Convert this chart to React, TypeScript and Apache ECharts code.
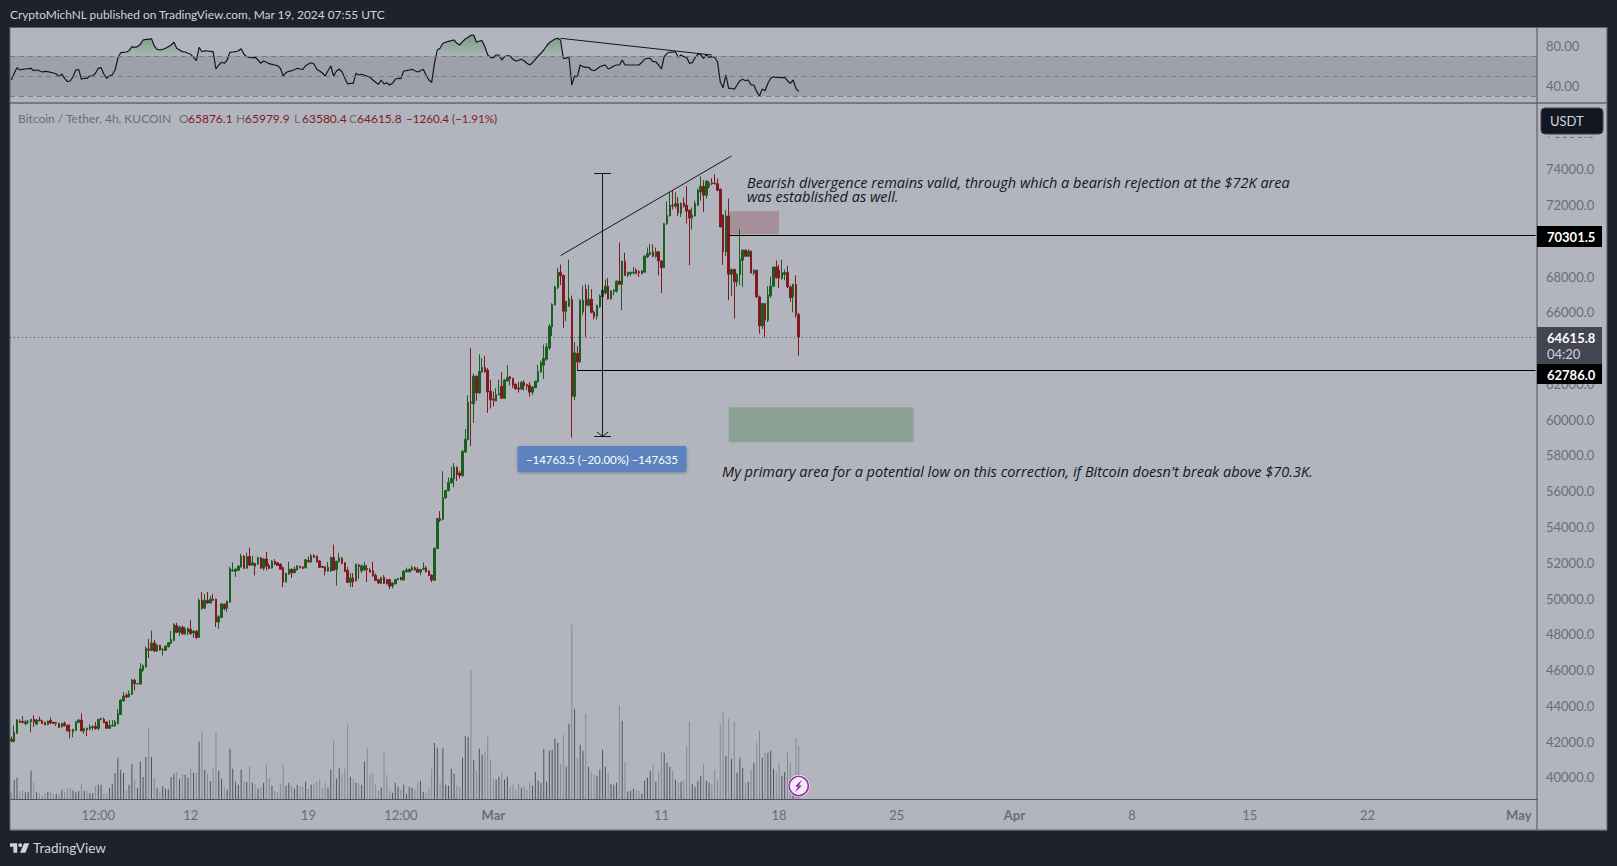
import React, { useEffect, useRef } from "react";
import * as echarts from "echarts";

// [open, close, low, high]
const candlesFeb: number[][] = [
[42150,42020,42020,42290],[42020,42520,41960,42920],[42480,43210,42440,43270],[43150,43080,43050,43250],[43130,43080,43020,43440],[43000,43110,42920,43210],[43110,43150,42980,43210],[43110,43250,42520,43250],[43250,43100,42830,43480],[42980,43210,42940,43270],
[43210,43170,43150,43400],[43170,43020,42990,43240],[43080,42940,42920,43130],[42960,43150,42920,43190],[43190,43040,43000,43350],[43080,43020,43000,43130],[43020,43060,42880,43110],[43020,42810,42750,43060],[42830,43000,42790,43060],[43040,42900,42850,43130],
[42920,42600,42580,42940],[42630,42600,42190,42980],[42540,42690,42250,42730],[42630,43110,42600,43150],[43080,43210,43040,43270],[43210,42600,42600,43590],[42600,42730,42440,42770],[42750,42670,42310,42790],[42710,42830,42630,42980],[42790,42830,42630,42920],
[42860,42730,42670,43110],[42750,43250,42630,43270],[43230,43270,43210,43360],[43250,43060,43040,43350],[43100,42750,42730,43130],[42750,42900,42730,43210],[42880,42920,42850,43210],[42880,43110,42850,43210],[43010,43580,42970,43830],[43520,44330,43500,44370],
[44280,44550,44260,44770],[44600,44500,44430,44700],[44500,44700,44480,44870],[44650,45450,44610,45510],[45440,45250,44870,45520],[45230,45250,45210,45270],[45220,46070,45200,46390],[45995,46245,45895,46325],[46170,47230,46140,47310],[47175,47115,46675,47745],
[47110,47520,47070,48210],[47520,47070,47020,47690],[47070,47400,47020,47450],[47380,47130,47090,47420],[47130,47170,46820,47210],[47110,47340,47070,47380],[47310,47530,47270,47570],[47490,47720,47450,48200],[47665,48545,47625,48625],[48495,48115,48075,48645],
[48115,48405,47905,48485],[48405,48035,47965,48485],[48035,48305,47965,48425],[48135,48325,47945,48385],[48285,48035,47985,48805],[48075,48175,47805,48245],[48175,47825,47735,48245],[47825,49908,47800,50005],[49905,49445,49385,50365],[49465,49905,49415,50255],
[49905,49755,49715,50365],[49755,49965,49715,50135],[49965,49905,49865,50255],[49960,48690,48415,50000],[48690,48980,48310,49070],[48950,49700,48910,49760],[49685,49435,49345,49725],[49455,49845,49245,49895],[49800,51683,49770,51780],[51545,51585,51505,52025],
[51525,51645,51205,51685],[51585,51815,51545,51855],[51770,52380,51730,52500],[52380,51700,51660,52420],[51700,52350,51660,52570],[52350,51870,51830,52850],[51870,52000,51830,52380],[51960,51810,51290,52000],[51930,52290,51870,52350],[52290,51700,51660,52330],
[51700,52210,51580,52270],[52210,51810,51580,52620],[51850,51680,51640,51970],[51710,52100,51680,52140],[52080,51930,51870,52200],[52000,51850,51810,52040],[51930,51640,51600,51970],[51725,50925,50635,51785],[50930,51410,50900,51450],[51370,51640,51330,52060],
[51640,51430,51160,51680],[51450,51640,51410,51790],[51600,51830,51560,51870],[51800,51720,51690,51840],[51760,51690,51650,51820],[51720,52170,51690,52210],[52140,52060,52020,52350],[52040,52390,52000,52500],[52410,52310,52270,52480],[52370,52060,52020,52410],
[52100,51750,51710,52160],[51790,51750,51710,51830],[51770,51540,51290,51810],[51540,51750,51500,52040],[51540,52290,51500,52360],[52290,51580,51540,53020],[51640,52080,50720,52120],[52060,52270,52020,52560],[52270,51960,51920,52310],[52000,51520,51480,52040],
[51575,50905,50865,51765],[50915,51145,50645,51425],[51145,50935,50645,51425],[50995,51915,50955,51955],[51870,51790,51100,51950],[51560,51830,51430,51910],[51600,51830,51560,52060],[51680,51620,50930,51870],[51600,51490,51450,51700],[51560,51270,51230,52060],
[51290,51020,50980,51410],[51060,50870,50830,51100],[50850,51180,50810,51220],[51200,50850,50810,51310],[51060,50830,50790,51100],[51060,50700,50530,51100],[50700,50870,50560,50910],[50830,51060,50790,51100],[51060,51120,51020,51160],[51180,51060,51020,51220],
[51040,51540,51000,51580],[51500,51600,51460,51730],[51500,51640,51460,51680],[51600,51720,51560,51850],[51720,51600,51560,51800],[51640,51470,51430,51760],[51490,51620,51310,51660],[51640,51680,51600,52020],[51720,51500,51460,51820],[51540,51290,51250,51580],
[51310,51040,50910,51350],[51020,52817,50985,52845],
];
const candlesMar: number[][] = [
[52800,54475,52760,54510],[54470,54370,54280,54890],[54418,55630,54380,57120],[55625,56045,55585,56055],[56035,56495,55995,56785],[56470,56710,56430,57390],[56705,57345,56225,57575],[57345,56935,56575,57385],[57015,56885,56705,57125],[56860,58240,56820,58280],
[58190,58900,58160,59480],[58890,60975,58850,61370],[60975,60935,58540,63990],[60886,62428,59820,62583],[62428,61497,61051,62468],[61497,62690,61455,63660],[62665,62915,62635,63435],[62915,62685,62635,63565],[62768,61555,60382,62884],[61594,61110,60625,62244],
[61150,61090,60740,61570],[61050,61410,61020,61760],[61400,61470,61360,62240],[61860,61200,61160,62650],[61200,62220,61160,62270],[62170,62360,62130,63050],[62400,62310,61920,62440],[62310,61920,61770,62340],[61980,61730,61690,62020],[61770,61710,61520,62110],
[61710,62100,61670,62140],[62080,61920,61630,62210],[61960,61880,61670,62000],[61920,61540,61290,62110],[61540,61830,61380,61870],[61790,62150,61760,62190],[62115,62695,62085,63055],[62670,63190,62630,63300],[63046,63430,62280,64200],[63380,64070,63300,64280],
[64014,65225,63900,65358],[65187,66454,64669,66500],[66418,67425,66375,67490],[67387,68243,67298,68486],[68243,68039,67518,68672],[68057,66063,65132,68120],[66063,66604,65505,66665],[66342,66772,66297,68951],[66715,61314,59005,66938],[61314,63736,61090,64350],
[63700,63232,62765,64106],[63232,66677,63175,66735],[66036,66676,65842,67490],[67292,66400,64630,67573],[66400,66735,66327,67540],[66735,66007,65940,67297],[66007,65746,65600,66086],[65785,66395,65600,66424],[66308,66919,66250,67007],[66870,67239,66812,67879],
[67089,67462,67007,67840],[67462,66754,66715,67918],[66754,67200,66715,67239],[67160,67239,66958,67300],[67180,67743,67103,67782],[67743,67574,67540,69900],[67574,68858,66123,68897],[68858,68073,68033,69334],[68073,68237,67976,68277],[68170,68237,68025,68270],
[68199,68237,68122,68537],[68354,68170,68122,68460],[68267,68208,67976,68364],[68170,68315,68122,68360],[68247,69140,68208,69198],[69101,69285,69043,69624],[69227,69362,69188,69818],[69382,69140,69091,69808],[69120,69382,69043,69624],[69382,68877,68073,69430],
[68877,68505,67084,68895],[68505,70963,68460,71001],[70963,71430,70885,72211],[71393,71987,71370,72727],[71987,71951,71758,72825],[71933,72080,71807,72727],[72080,71560,71370,72455],[71523,72080,71332,72147],[72118,71933,71855,72419],[71987,71651,70963,73050],
[71709,71280,68635,71758],[71280,71430,70628,71855],[71393,72080,71351,72244],[71987,72825,71951,72922],[72727,73047,72244,73600],[73047,72546,71614,73385],[72546,73330,72360,73407],[73013,73252,72922,73339],[73252,73194,73116,73503],[73214,73194,73145,73721],
[73194,72825,72776,73480],[72883,70778,70740,72922],[71430,69380,68654,71468],[69380,71393,69139,71710],[71393,68131,66676,72360],[68131,68392,66909,68450],[68392,67705,65648,68450],[67705,68131,67441,68170],[68113,68972,67520,70642],[68915,69474,67423,69529],
[69474,69140,69091,69529],[69140,69420,69091,69529],[69420,68206,68168,69460],[68206,68354,68073,68413],[68354,66866,66812,68364],[66866,65245,64815,66938],[65245,66492,65065,66521],[66492,65562,64593,66521],[65562,66958,65454,67462],[66922,67462,66812,67986],
[67462,68537,67441,68557],[68537,67947,67879,68897],[68354,67908,67345,68654],[67908,68208,67830,68947],[68130,68225,67800,68400],[68225,67424,67350,68600],[67424,66828,66600,67500],[66865,67554,66000,67600],[67554,65876,65700,68076],[65876.1,64615.8,63580.4,65979.9],
];
const volumeFeb: number[] = [
20,58,64,23,25,20,22,85,49,20,18,12,19,22,22,14,16,16,28,20,31,34,26,20,24,46,25,25,18,17,40,43,43,16,19,33,46,78,124,88,78,28,43,106,58,33,112,66,126,214,126,64,34,22,39,31,31,66,76,81,61,76,73,64,91,79,78,172,202,88,76,54,91,202,85,61,36,28,151,91,52,43,88,55,51,100,49,43,31,37,49,106,63,40,24,21,46,103,40,49,40,31,43,37,37,52,31,43,46,52,58,34,49,34,88,175,61,94,73,91,223,67,61,49,46,43,112,151,76,79,46,25,34,142,73,25,19,49,37,28,43,16,37,34,28,52,55,22,19,31,91,168,
];
const volumeMar: number[] = [
154,49,154,43,40,91,76,43,37,124,190,187,388,118,85,151,133,142,187,118,61,58,67,79,58,67,37,43,28,46,34,40,28,49,40,82,55,49,151,52,145,148,181,169,106,193,97,226,523,271,124,163,145,256,97,79,73,70,88,148,97,79,46,43,49,280,235,112,22,25,31,28,25,16,55,64,85,103,52,82,142,139,109,97,85,58,49,52,55,157,232,46,37,55,70,103,55,49,43,88,58,226,262,130,241,121,232,79,124,94,49,52,88,109,169,205,124,139,139,145,91,79,109,70,82,139,109,55,184,160,
];
const rsiFeb: number[] = [
46,52.7,58.3,56,56.7,57,57.3,57.7,55.3,56,55.3,54,54.7,54.3,53.7,53,52,49.3,52,47.7,44.3,45,49.3,56,56.7,46.7,47.7,47.7,50,50,52.7,57.7,58.3,52,47.7,50,51.3,56,67.7,73.3,73.7,74,75.3,79.3,78.7,79.3,81.7,86,86.7,86.7,87.3,80,76.7,76,76.7,77.7,79.3,81,83.7,77.7,76,74.3,74,72.7,71.7,68.7,65.3,78.7,74.3,75.3,75,74.7,74.3,57,61,63.7,62.7,66,73.7,74,74.3,75.3,77.3,71.7,69.3,68.7,68.3,68.7,66,62.7,65,63.7,62.3,61.7,61,60.3,57.7,50,53.3,54.7,55.3,56.3,57.7,57,56.7,60.3,62,63.3,62,56.7,55,53,50,55.3,60,50,54.7,57,54.3,47.7,42,42.7,42.7,52.7,51,51.7,50.7,49.7,48.7,46,43.7,41.7,46,42,43.3,41,42.7,46.7,47.7,47.3,55,55.3,56,56.7,55.3,54,55.3,56.7,51,46,43.7,62.7,
];
const rsiMar: number[] = [
76,77.7,82.7,83.7,84.7,85.3,86,82.7,81,84.3,87,88.7,90.7,91,83.7,85,85.3,79.3,71,68.7,68.3,71,71,66,69.3,70.3,70,66.7,65,65.7,66.7,65.3,62.7,61,63.3,66.7,70,72.7,76,80,83.3,85.3,87,87.7,86,67.7,67.7,69.3,41,50,49.3,61,59.3,58.7,58.7,56,55.3,57,59.3,60.3,61,57,58.3,60,61,61,66,61,61,61,61,61,61,63.7,66.7,67.7,67.7,64.3,64.3,61,57,69.3,72.7,73.7,74,74.3,68.7,71,69.3,68.7,62.7,63.3,68.3,71.7,71.7,67.7,71,68.7,69.3,68.7,64.3,44.3,38.3,51,37.7,37.7,36.7,41,45.3,46.7,45.3,46,41,41,34.3,30,37,35.3,42.7,47.7,49.3,48.7,48.7,48.3,48.7,45.3,42.7,46,37.7,34.3,
];
const timeLabels: [number, string][] = [[31,"12:00"],[64,"12"],[106,"19"],[139,"12:00"],[172,"Mar"],[232,"11"],[274,"18"],[316,"25"],[358,"Apr"],[400,"8"],[442,"15"],[484,"22"],[538,"May"]];
const monthNames = ["Mar", "Apr", "May"];
const priceTicks = { min: 38000, max: 78000, step: 2000 };
const coveredTicks = [64000, 70000];
const slotCount = 545;

// drawings: [slot, price]
const wedgeLine = [[196, 69176], [257, 74743]];
const rsiLine = [[196, 87.7], [250, 71]];
const measureSlot = 211;
const measureTop = 73760;
const measureBottom = 59058;
const measureCaps = [208, 214];
const chevron = [[209, 59315], [211, 59058], [213, 59315]];
const resistance = { from: 256, level: 70301.5 };
const support = { from: 202, level: 62786 };
const lastPrice = 64615.8;
const redZone = { from: 256, to: 274, top: 71652, bottom: 70366 };
const greenZone = { from: 256, to: 322, top: 60696, bottom: 58739 };

const candles = candlesFeb.concat(candlesMar);
const volumes = volumeFeb.concat(volumeMar);
const rsi = rsiFeb.concat(rsiMar);

const UP = "#1b5e20";
const DOWN = "#801922";
const INK = "#131722";
const DARK = "#1e222d";
const PANE = "#b2b5be";
const AXIS_TEXT = "#6a6d78";
const FONT = "Lato";

function txt(x: number, y: number, text: string, fill: string, font: string, z = 60, align = "left") {
  return { type: "text", z, silent: true, style: { x, y, text, fill, font, textAlign: align, textVerticalAlign: "middle" } };
}
function box(x: number, y: number, w: number, h: number, fill: string, z: number) {
  return { type: "rect", z, silent: true, shape: { x, y, width: w, height: h }, style: { fill } };
}
function seg(x1: number, y1: number, x2: number, y2: number, stroke: string, z = 40) {
  return { type: "line", z, silent: true, shape: { x1, y1, x2, y2 }, style: { stroke, lineWidth: 1 } };
}
function link(a: number[], b: number[], extra: any = {}) {
  return [{ coord: a, ...extra }, { coord: b }];
}

export default function App() {
  const ref = useRef<HTMLDivElement>(null);
  useEffect(() => {
    const chart = echarts.init(ref.current!, undefined, { renderer: "svg" });
    const slots = Array.from({ length: slotCount }, (_, i) => {
      const hit = timeLabels.find((t) => t[0] === i);
      return hit ? hit[1] : "";
    });
    const labelled = new Set(timeLabels.map((t) => t[0]));
    const plainX = { type: "category", data: slots, boundaryGap: true, axisLine: { show: false }, axisTick: { show: false }, axisLabel: { show: false }, splitLine: { show: false } };

    const legendFont = `12px ${FONT}`;
    const noteFont = `italic 14.5px "Open Sans"`;
    const graphic: any[] = [
      box(10, 27, 1597, 803, PANE, -10),
      seg(10, 103, 1607, 103, "#3a3d48"),
      seg(1537, 27, 1537, 830, "#4c4f5a"),
      box(10, 27, 1597, 1, "#5d606b", 40),
      box(10, 829.5, 1597, 1.5, "#5d606b", 40),
      box(9.5, 27, 1, 803, "#6a6d78", 40),
      box(1606.5, 27, 1, 803, "#5d606b", 40),
      txt(10, 14.5, "CryptoMichNL published on TradingView.com, Mar 19, 2024 07:55 UTC", "#d1d4dc", `11.9px ${FONT}`),
      txt(18, 118.5, "Bitcoin / Tether, 4h, KUCOIN", AXIS_TEXT, legendFont),
      txt(179, 118.5, "O", AXIS_TEXT, legendFont), txt(188, 118.5, "65876.1", DOWN, legendFont),
      txt(236, 118.5, "H", AXIS_TEXT, legendFont), txt(245, 118.5, "65979.9", DOWN, legendFont),
      txt(294, 118.5, "L", AXIS_TEXT, legendFont), txt(302, 118.5, "63580.4", DOWN, legendFont),
      txt(349, 118.5, "C", AXIS_TEXT, legendFont), txt(357, 118.5, "64615.8", DOWN, legendFont),
      txt(406, 118.5, "−1260.4 (−1.91%)", DOWN, `11.6px ${FONT}`),
      txt(747, 182.5, "Bearish divergence remains valid, through which a bearish rejection at the $72K area", INK, noteFont),
      txt(747, 196.5, "was established as well.", INK, noteFont),
      txt(722, 471, "My primary area for a potential low on this correction, if Bitcoin doesn't break above $70.3K.", INK, noteFont),
      { type: "rect", z: 50, silent: true, shape: { x: 517.5, y: 446, width: 169, height: 26, r: 2 }, style: { fill: "#5b83bd", shadowBlur: 3, shadowColor: "rgba(0,0,0,0.3)", shadowOffsetY: 1 } },
      txt(602, 459, "−14763.5 (−20.00%) −147635", "#ffffff", `11.4px ${FONT}`, 60, "center"),
      box(1538, 134.5, 66, 2.2, PANE, 49),
      { type: "rect", z: 50, silent: true, shape: { x: 1541, y: 108, width: 62, height: 26, r: 4 }, style: { fill: "#131722", stroke: "#434651", lineWidth: 1 } },
      txt(1550, 121, "USDT", "#d1d4dc", `13px ${FONT}`),
      box(1537, 226, 65, 21, "#000000", 50),
      txt(1547, 236.5, "70301.5", "#ffffff", `bold 13px ${FONT}`),
      box(1537, 327, 65, 37, "#434651", 50),
      txt(1547, 338, "64615.8", "#ffffff", `bold 13px ${FONT}`),
      txt(1547, 354, "04:20", "#d1d4dc", `13px ${FONT}`),
      box(1537, 364, 65, 20, "#000000", 51),
      txt(1547, 374.5, "62786.0", "#ffffff", `bold 13px ${FONT}`),
      { type: "circle", z: 50, silent: true, shape: { cx: 798.7, cy: 786, r: 11 }, style: { fill: "#ffffff" } },
      { type: "circle", z: 51, silent: true, shape: { cx: 798.7, cy: 786, r: 9.6 }, style: { fill: "#f0ecf3", stroke: "#9c27b0", lineWidth: 1.6 } },
      { type: "polygon", z: 52, silent: true, shape: { points: [[802, 779.5], [795, 786.5], [798, 786.5], [795, 792.5], [802, 785.5], [799, 785.5]] }, style: { fill: "#9c27b0" } },
      { type: "polygon", z: 40, silent: true, shape: { points: [[10, 843.3], [17.2, 843.3], [17.2, 852.7], [13.4, 852.7], [13.4, 846.8], [10, 846.8]] }, style: { fill: "#d1d4dc" } },
      { type: "circle", z: 40, silent: true, shape: { cx: 20.2, cy: 845.2, r: 1.9 }, style: { fill: "#d1d4dc" } },
      { type: "polygon", z: 40, silent: true, shape: { points: [[24, 843.3], [29.3, 843.3], [25.4, 852.7], [20, 852.7]] }, style: { fill: "#d1d4dc" } },
      txt(33, 848, "TradingView", "#d1d4dc", `13.5px ${FONT}`),
    ];

    const option: any = {
      animation: false,
      backgroundColor: DARK,
      textStyle: { fontFamily: FONT },
      tooltip: { show: false },
      graphic,
      grid: [
        { left: 10, width: 1527, top: 26, height: 80 },
        { left: 10, width: 1527, top: 97.7, height: 715.56 },
        { left: 10, width: 1527, top: 599, height: 200 },
      ],
      xAxis: [
        { ...plainX, gridIndex: 0 },
        { ...plainX, gridIndex: 1 },
        {
          ...plainX,
          gridIndex: 2,
          axisLine: { show: true, lineStyle: { color: "#50535e", width: 1 } },
          axisLabel: {
            show: true,
            margin: 9,
            hideOverlap: false,
            color: AXIS_TEXT,
            fontSize: 13,
            fontFamily: FONT,
            interval: (i: number) => labelled.has(i),
            formatter: (v: string) => (monthNames.includes(v) ? `{m|${v}}` : v),
            rich: { m: { fontWeight: "bold", color: AXIS_TEXT, fontSize: 13, fontFamily: FONT } },
          },
        },
      ],
      yAxis: [
        {
          type: "value", gridIndex: 0, position: "right", min: 20, max: 100, interval: 20,
          axisLine: { show: false }, axisTick: { show: false }, splitLine: { show: false },
          axisLabel: { margin: 9, color: AXIS_TEXT, fontSize: 13, fontFamily: FONT, formatter: (v: number) => (v === 40 || v === 80 ? v.toFixed(2) : "") },
        },
        {
          type: "value", gridIndex: 1, position: "right", min: priceTicks.min, max: priceTicks.max, interval: priceTicks.step, scale: true,
          axisLine: { show: false }, axisTick: { show: false }, splitLine: { show: false },
          axisLabel: {
            margin: 9, color: AXIS_TEXT, fontSize: 13, fontFamily: FONT, showMinLabel: false, showMaxLabel: false,
            formatter: (v: number) => (coveredTicks.includes(v) ? "" : v.toFixed(1)),
          },
        },
        { type: "value", gridIndex: 2, min: 0, max: 600, show: false },
      ],
      series: [
        {
          type: "line", name: "RSI fill", xAxisIndex: 0, yAxisIndex: 0, silent: true,
          data: rsi.map((v) => Math.max(v, 70)), showSymbol: false, lineStyle: { width: 0 }, z: 2,
          areaStyle: {
            origin: 70,
            color: new echarts.graphic.LinearGradient(0, 0, 0, 1, [
              { offset: 0, color: "rgba(56,142,60,0.75)" },
              { offset: 1, color: "rgba(56,142,60,0.05)" },
            ]),
          },
        },
        {
          type: "line", name: "RSI", xAxisIndex: 0, yAxisIndex: 0, silent: true,
          data: rsi, showSymbol: false, lineStyle: { color: INK, width: 1.2 }, z: 3,
          markArea: { silent: true, itemStyle: { color: "#9fa1aa" }, data: [[{ yAxis: 70 }, { yAxis: 30 }]] },
          markLine: {
            silent: true, symbol: "none", label: { show: false }, z: 4,
            lineStyle: { color: "#787b86", type: [5, 4], width: 1 },
            data: [
              { yAxis: 70 }, { yAxis: 50 }, { yAxis: 30 },
              link(rsiLine[0], rsiLine[1], { lineStyle: { color: INK, type: "solid", width: 1 } }),
            ],
          },
        },
        {
          type: "bar", name: "Volume", xAxisIndex: 2, yAxisIndex: 2, silent: true, barWidth: 1, z: 2,
          data: volumes.map((v, i) => ({ value: v, itemStyle: { color: candles[i][1] >= candles[i][0] ? "#50535e" : "#868892" } })),
        },
        {
          type: "candlestick", name: "BTCUSDT", xAxisIndex: 1, yAxisIndex: 1, silent: true, barWidth: 2, z: 3,
          data: candles,
          itemStyle: { color: UP, color0: DOWN, borderColor: UP, borderColor0: DOWN, borderWidth: 1 },
          markArea: {
            silent: true,
            data: [
              [{ coord: [redZone.from, redZone.top], itemStyle: { color: "#a5909a" } }, { coord: [redZone.to, redZone.bottom] }],
              [{ coord: [greenZone.from, greenZone.top], itemStyle: { color: "#8ca296" } }, { coord: [greenZone.to, greenZone.bottom] }],
            ],
          },
          markLine: {
            silent: true, symbol: "none", label: { show: false }, z: 5,
            lineStyle: { color: INK, type: "solid", width: 1 },
            data: [
              { yAxis: lastPrice, lineStyle: { color: "#3f424c", type: [1, 3], width: 1 } },
              link([resistance.from, resistance.level], [slotCount - 1, resistance.level], { lineStyle: { color: "#000000", type: "solid", width: 1 } }),
              link([support.from, support.level], [slotCount - 1, support.level], { lineStyle: { color: "#000000", type: "solid", width: 1 } }),
              link(wedgeLine[0], wedgeLine[1]),
              link([measureSlot, measureTop], [measureSlot, measureBottom]),
              link([measureCaps[0], measureTop], [measureCaps[1], measureTop]),
              link([measureCaps[0], measureBottom], [measureCaps[1], measureBottom]),
              link(chevron[0], chevron[1]),
              link(chevron[1], chevron[2]),
            ],
          },
        },
      ],
    };
    chart.setOption(option);
    return () => chart.dispose();
  }, []);
  return <div ref={ref} style={{ position: "absolute", left: 0, top: 0, width: 1617, height: 866 }} />;
}
